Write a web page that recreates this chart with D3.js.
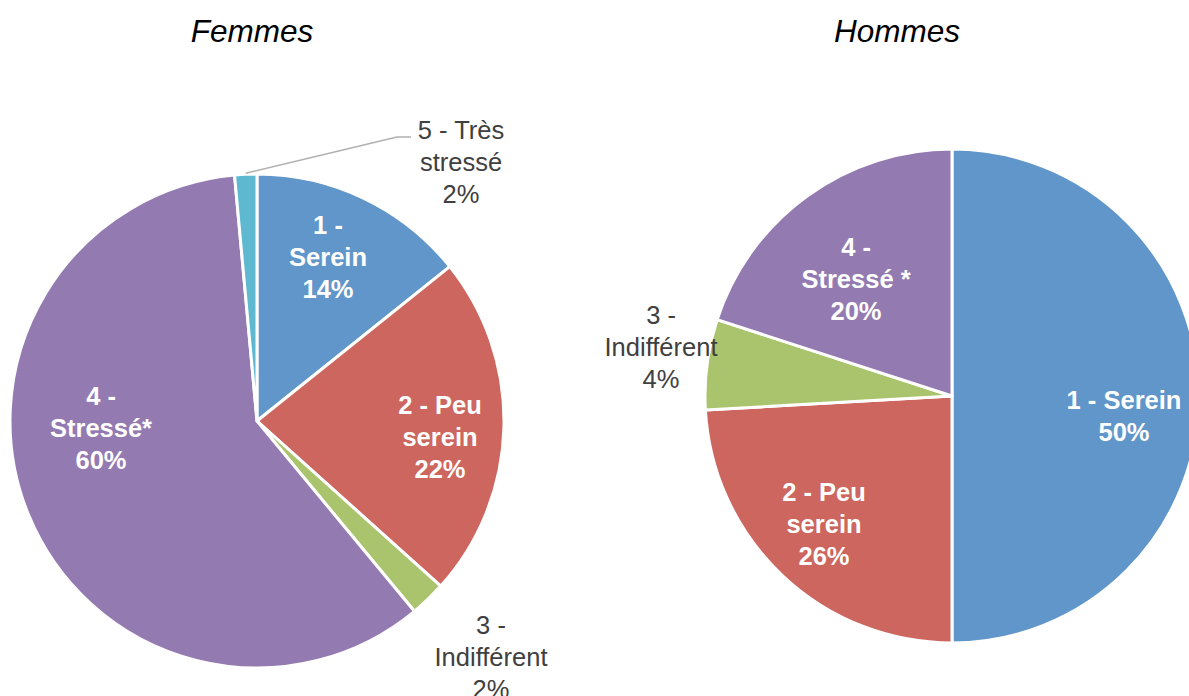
<!DOCTYPE html>
<html>
<head>
<meta charset="utf-8">
<script src="https://cdn.jsdelivr.net/npm/d3@7"></script>
<style>
  body { margin: 0; background: #fff; }
  svg { display: block; font-family: Arial, "Liberation Sans", sans-serif; }
</style>
</head>
<body>
<div id="chart"></div>
<script>
// data
var categories = ["1 - Serein", "2 - Peu serein", "3 - Indifférent", "4 - Stressé", "5 - Très stressé"];
var sliceColors = ["#6096c9", "#cc665e", "#a9c46c", "#937ab0", "#5db8d0"];

var femmesValues = [14.25, 22.4, 2.35, 59.55, 1.45];
var femmesLabels = [
  ["1 -", "Serein", "14%"],
  ["2 - Peu", "serein", "22%"],
  ["3 -", "Indifférent", "2%"],
  ["4 -", "Stressé*", "60%"],
  ["5 - Très", "stressé", "2%"]
];

var hommesValues = [50, 24.1, 5.9, 20.0];
var hommesLabels = [
  ["1 - Serein", "50%"],
  ["2 - Peu", "serein", "26%"],
  ["3 -", "Indifférent", "4%"],
  ["4 -", "Stressé *", "20%"]
];

// layout
var svgWidth = 1189;
var svgHeight = 696;
var radius = 247;
var lineHeight = 32;

var svg = d3.select("#chart")
  .append("svg")
  .attr("width", svgWidth)
  .attr("height", svgHeight);

// label placement relative to each pie centre, plus whether it sits outside
var femmesLayout = {
  cx: 257, cy: 421, title: "Femmes", titleX: 252,
  labelPos: [[71, -164], [183, 16], [234, 236], [-156, 7], [204, -259]],
  outside: [false, false, true, false, true],
  leader: { index: 4, elbow: [[140, -284], [154, -284]] }
};
var hommesLayout = {
  cx: 952, cy: 396, title: "Hommes", titleX: 897,
  labelPos: [[172, 20], [-128, 128], [-291, -49], [-96, -117]],
  outside: [false, false, true, false],
  leader: null
};

function drawPie(values, labels, layout) {
  var pie = d3.pie().sort(null).value(d => d);
  var arc = d3.arc().innerRadius(0).outerRadius(radius);
  var rimArc = d3.arc().innerRadius(radius + 1).outerRadius(radius + 1);

  var g = svg.append("g")
    .attr("transform", `translate(${layout.cx}, ${layout.cy})`);

  var arcs = pie(values);

  g.selectAll("path.slice")
    .data(arcs)
    .enter()
    .append("path")
    .attr("class", "slice")
    .attr("d", arc)
    .attr("fill", (d, i) => sliceColors[i])
    .attr("stroke", "#fff")
    .attr("stroke-width", 3)
    .attr("stroke-linejoin", "round");

  // leader line for small outside slice
  if (layout.leader) {
    var start = rimArc.centroid(arcs[layout.leader.index]);
    var pts = [start].concat(layout.leader.elbow);
    g.append("polyline")
      .attr("points", pts.map(p => p.join(",")).join(" "))
      .attr("fill", "none")
      .attr("stroke", "#b0b0b0")
      .attr("stroke-width", 1.6);
  }

  // data labels
  labels.forEach(function (lines, i) {
    var pos = layout.labelPos[i];
    var isOut = layout.outside[i];
    var text = g.append("text")
      .attr("text-anchor", "middle")
      .attr("font-size", "25.5px")
      .attr("font-weight", isOut ? "normal" : "bold")
      .attr("fill", isOut ? "#404040" : "#ffffff");
    var firstOffset = -(lines.length - 1) / 2 * lineHeight;
    lines.forEach(function (line, j) {
      text.append("tspan")
        .attr("x", pos[0])
        .attr("y", pos[1] + firstOffset + j * lineHeight + 9)
        .text(line);
    });
  });

  // title
  svg.append("text")
    .attr("x", layout.titleX)
    .attr("y", 42)
    .attr("text-anchor", "middle")
    .attr("font-size", "31.5px")
    .attr("font-style", "italic")
    .attr("fill", "#000")
    .text(layout.title);
}

drawPie(femmesValues, femmesLabels, femmesLayout);
drawPie(hommesValues, hommesLabels, hommesLayout);
</script>
</body>
</html>
